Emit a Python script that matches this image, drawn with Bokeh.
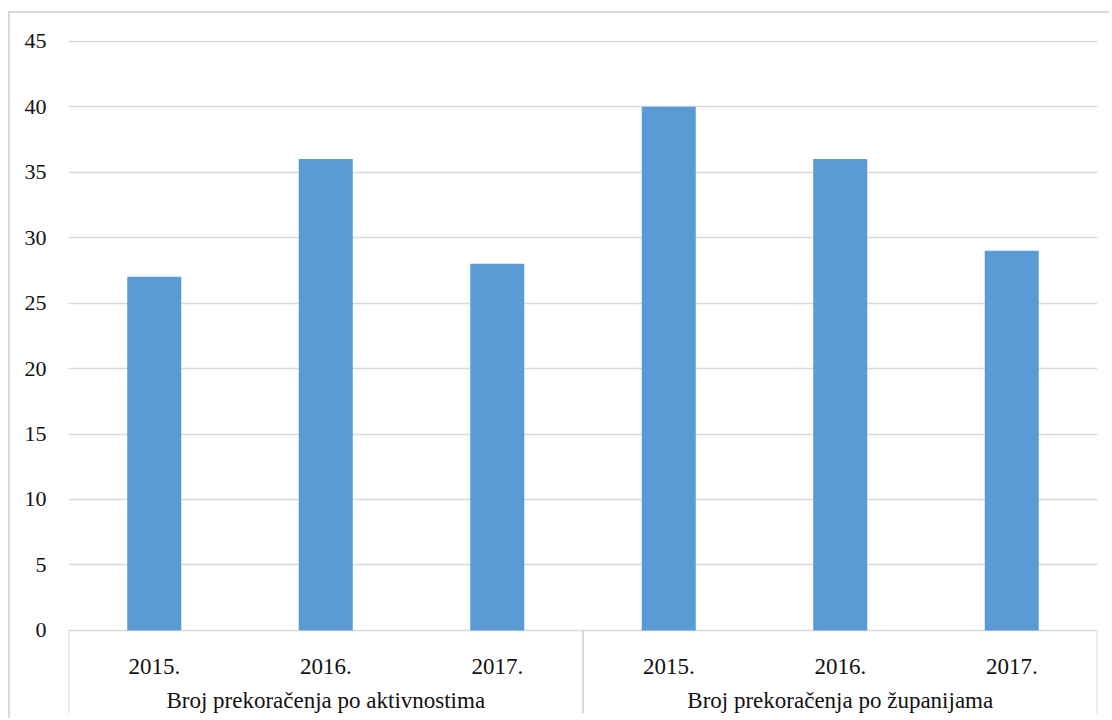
from bokeh.plotting import figure
from bokeh.models import FactorRange, Range1d, FixedTicker, ColumnDataSource
from bokeh.core.properties import value
from bokeh.embed import file_html
from bokeh.resources import INLINE

groups = ["Broj prekoračenja po aktivnostima", "Broj prekoračenja po županijama"]
years = ["2015.", "2016.", "2017."]
counts = [27, 36, 28, 40, 36, 29]
y_ticks = [0, 5, 10, 15, 20, 25, 30, 35, 40, 45]

factors = [(g, y) for g in groups for y in years]

FONT = "Liberation Serif"
GRID = "#d9d9d9"
BAR = "#5b9bd5"
TXT = "#111111"

p = figure(
    width=1101, height=707,
    x_range=FactorRange(*factors, factor_padding=0, group_padding=0, range_padding=0),
    y_range=Range1d(-6.876, 45.05),
    output_backend="svg", toolbar_location=None,
    x_axis_location=None,
    min_border_left=58, min_border_right=14, min_border_top=27, min_border_bottom=0,
    styles={"border-top": "2px solid #d9d9d9", "border-left": "2px solid #d9d9d9",
            "margin-top": "11px", "margin-left": "8px"},
)
p.outline_line_color = None
p.background_fill_color = "white"
p.border_fill_color = "white"

src = ColumnDataSource(dict(x=factors, top=counts))
p.vbar(x="x", top="top", width=0.315, source=src, fill_color=BAR, line_color=None)

# axis
p.yaxis.ticker = FixedTicker(ticks=y_ticks)
p.yaxis.axis_line_color = None
p.yaxis.major_tick_line_color = None
p.yaxis.minor_tick_line_color = None
p.yaxis.major_label_standoff = 16
p.yaxis.major_label_text_font = FONT
p.yaxis.major_label_text_font_size = "22px"
p.yaxis.major_label_text_color = TXT

p.ygrid.ticker = FixedTicker(ticks=y_ticks)
p.ygrid.grid_line_color = GRID
p.ygrid.grid_line_width = 1.5
p.xgrid.visible = False

# category labels
p.text(x=factors, y=[-2.75] * len(factors), text=[f[1] for f in factors],
       text_font=value(FONT), text_font_size="23px", text_color=TXT,
       text_align="center", text_baseline="alphabetic")
p.text(x=groups, y=[-5.35] * len(groups), text=groups,
       text_font=value(FONT), text_font_size="23px", text_color=TXT,
       text_align="center", text_baseline="alphabetic")

# separators between category groups
sep_x = [(groups[0], years[0], -0.5), (groups[1], years[0], -0.5), (groups[1], years[-1], 0.5)]
p.segment(x0=sep_x, y0=[0] * 3, x1=sep_x, y1=[-6.34] * 3, line_color=GRID, line_width=2)

open("out.html", "w").write(file_html(p, INLINE))
